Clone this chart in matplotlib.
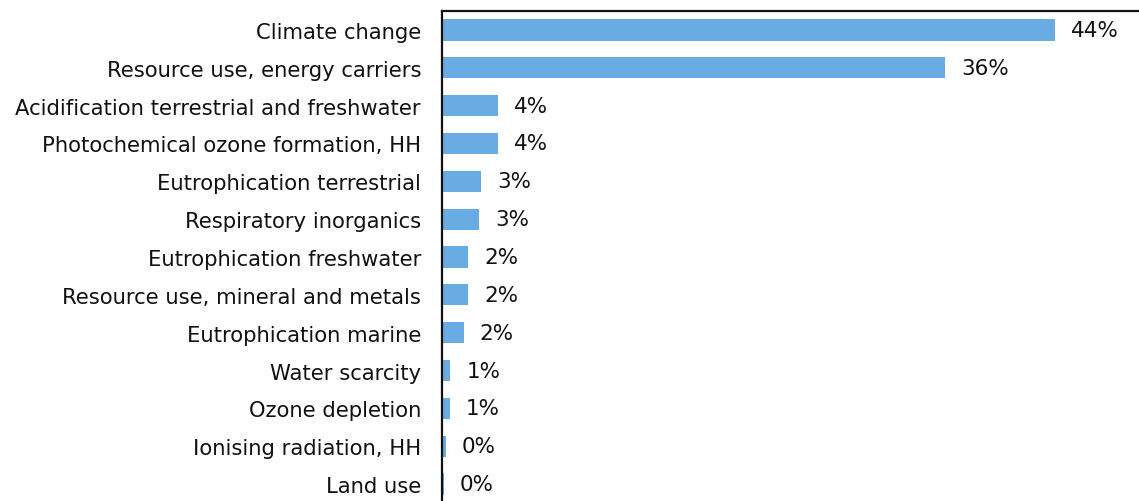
import matplotlib.pyplot as plt

# impact categories, top to bottom
categories = [
    "Climate change",
    "Resource use, energy carriers",
    "Acidification terrestrial and freshwater",
    "Photochemical ozone formation, HH",
    "Eutrophication terrestrial",
    "Respiratory inorganics",
    "Eutrophication freshwater",
    "Resource use, mineral and metals",
    "Eutrophication marine",
    "Water scarcity",
    "Ozone depletion",
    "Ionising radiation, HH",
    "Land use",
]
# contribution to the total single score (%)
shares = [44.0, 36.1, 4.0, 4.0, 2.8, 2.65, 1.9, 1.9, 1.55, 0.6, 0.55, 0.27, 0.12]

bar_color = "#69ACE3"

fig = plt.figure(figsize=(11.39, 5.02), dpi=100)
ax = fig.add_axes([0.388, -0.004, 0.612, 0.98])

ypos = list(range(len(categories)))
bars = ax.barh(ypos, shares, height=0.56, color=bar_color)

for y, v in zip(ypos, shares):
    ax.annotate(f"{v:.0f}%", xy=(v, y), xytext=(11.5, 0), textcoords="offset points",
                va="center", ha="left", fontsize=15.5, color="#111111")

ax.set_yticks(ypos)
ax.set_yticklabels(categories, fontsize=15.2, color="#111111")
ax.tick_params(axis="y", length=0, pad=15)
ax.set_xticks([])
ax.set_xlim(0, 50)
ax.set_ylim(len(categories) - 0.5, -0.5)

for side in ["right", "bottom"]:
    ax.spines[side].set_visible(False)
for side in ["top", "left"]:
    ax.spines[side].set_linewidth(1.6)
    ax.spines[side].set_color("#111111")

fig.savefig("out.png", dpi=100)
